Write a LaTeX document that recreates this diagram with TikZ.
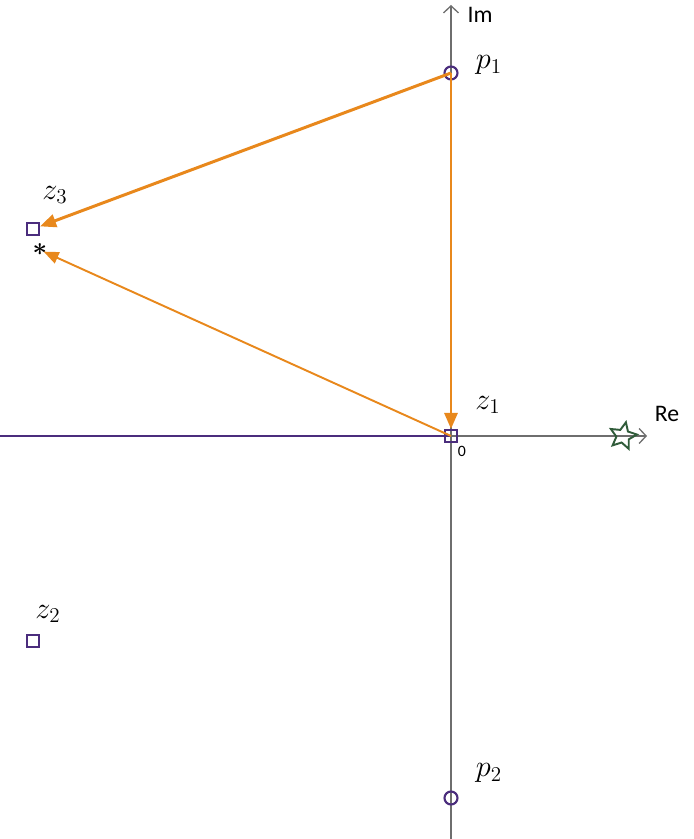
\documentclass[tikz,border=0pt]{standalone}
\usepackage{fontspec}
\usepackage{amsmath}
\setsansfont{Carlito}
\usetikzlibrary{shapes.geometric,arrows.meta}
\definecolor{pzcol}{RGB}{75,45,125}
\definecolor{veccol}{RGB}{232,136,28}
\definecolor{starcol}{RGB}{48,92,58}
\definecolor{axcol}{RGB}{110,110,110}
\begin{document}
\begin{tikzpicture}[
    pole/.style={circle,draw=pzcol,line width=1.2pt,inner sep=0pt,minimum size=0.26cm},
    zerobox/.style={rectangle,draw=pzcol,line width=1.2pt,inner sep=0pt,minimum size=0.24cm},
    vec/.style={draw=veccol,line width=1.7pt,-{Triangle[length=0.32cm,width=0.26cm]}},
    thinvec/.style={draw=veccol,line width=1.1pt,-{Triangle[length=0.3cm,width=0.24cm]}},
    axis/.style={draw=axcol,line width=0.75pt,-{Straight Barb[length=0.14cm,width=0.3cm]}},
    lbl/.style={font=\fontsize{18}{20}\selectfont},
    axlbl/.style={font=\sffamily\fontsize{13.5}{15}\selectfont}]
    \useasboundingbox (-9.02,-8.06) rectangle (4.84,8.72);
    % axes
    \coordinate (o) at (0,0);
    \coordinate (imbot) at (0,-8.06);
    \coordinate (imtop) at (0,8.62);
    \coordinate (retop) at (3.92,0);
    \coordinate (releft) at (-9.02,0);
    \draw [axis] (imbot) -- (imtop);
    \draw [axis] (o) -- (retop);
    \draw [pzcol,line width=1.2pt] (releft) -- (o);
    \node (im) at (0.58,8.42) [axlbl] {Im};
    \node (re) at (4.32,0.44) [axlbl] {Re};
    \node (orig) at (0.22,-0.3) [font=\sffamily\fontsize{9}{10}\selectfont] {0};
    % poles and zeros
    \node (p1) at (0,7.26) [pole] {};
    \node (p2) at (0,-7.24) [pole] {};
    \node (z1) at (0,0) [zerobox] {};
    \node (z2) at (-8.36,-4.10) [zerobox] {};
    \node (z3) at (-8.36,4.14) [zerobox] {};
    \node (w) at (-8.22,3.72) [inner sep=0pt,font=\fontsize{15}{15}\selectfont] {$\boldsymbol{\ast}$};
    \node (s) at (3.44,0) [star,star points=5,star point ratio=2.1,draw=starcol,line width=1.1pt,
        minimum size=0.56cm,inner sep=0pt,rotate=-12] {};
    \node (lp1) at (0.76,7.42) [lbl] {$p_1$};
    \node (lp2) at (0.76,-6.74) [lbl] {$p_2$};
    \node (lz1) at (0.74,0.62) [lbl] {$z_1$};
    \node (lz2) at (-8.06,-3.56) [lbl] {$z_2$};
    \node (lz3) at (-7.92,4.82) [lbl] {$z_3$};
    % vectors
    \draw [vec] (p1.center) -- (z3);
    \draw [vec] (p1.center) -- (z1);
    \draw [thinvec,shorten >=0.08cm] (z1.center) -- (w.center);
\end{tikzpicture}
\end{document}
